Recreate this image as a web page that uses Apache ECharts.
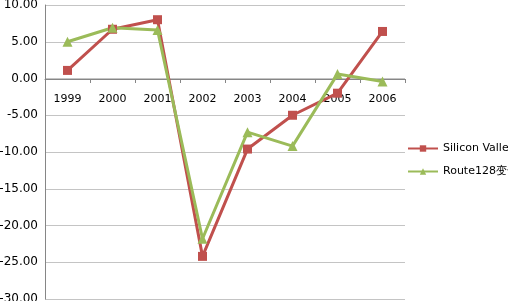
<!DOCTYPE html>
<html>
<head>
<meta charset="utf-8">
<script src="https://cdn.jsdelivr.net/npm/echarts@6/dist/echarts.min.js"></script>
<style>
    html, body { margin: 0; padding: 0; background: #fff; }
    #chart { width: 508px; height: 301px; }
</style>
</head>
<body>
<div id="chart"></div>
<script>
var years = ['1999', '2000', '2001', '2002', '2003', '2004', '2005', '2006'];
var siliconValley = [1.1, 6.7, 8.0, -24.2, -9.6, -5.0, -2.0, 6.4];
var route128 = [5.0, 6.9, 6.6, -21.8, -7.3, -9.2, 0.6, -0.4];
var seriesNames = ['Silicon Valley变化', 'Route128变化'];

function init() {
    var myChart = echarts.init(document.getElementById('chart'));
    let red_color = '#C0504D';
    let green_color = '#9BBB59';
    let font = 'DejaVu Sans';
    myChart.setOption({
        backgroundColor: '#fff',
        animation: false,
        legend: {
            orient: 'vertical',
            left: 402,
            top: 138,
            itemWidth: 30,
            itemHeight: 8,
            itemGap: 12,
            textStyle: { fontFamily: font, fontSize: 11, color: '#000' },
            data: seriesNames
        },
        grid: {
            left: 45,
            right: 103,
            top: 5,
            bottom: 2,
            containLabel: false,
            outerBoundsMode: 'none'
        },
        xAxis: {
            type: 'category',
            data: years,
            position: 'bottom',
            // x axis sits on the zero line, 220 px above the grid bottom
            offset: -220,
            boundaryGap: true,
            axisLine: { onZero: false, lineStyle: { color: '#868686' } },
            axisTick: { show: true, length: 4, lineStyle: { color: '#868686' } },
            axisLabel: {
                show: true, interval: 0, hideOverlap: false,
                fontFamily: font, fontSize: 11, color: '#000', margin: 15
            },
            splitLine: { show: false }
        },
        yAxis: {
            type: 'value',
            min: -30,
            max: 10,
            interval: 5,
            axisLine: { show: true, lineStyle: { color: '#868686' } },
            axisTick: { show: false },
            axisLabel: {
                fontFamily: font, fontSize: 12, color: '#000', margin: 7,
                formatter: function (v) { return v.toFixed(2); }
            },
            splitLine: { lineStyle: { color: '#C4C4C4', width: 1 } }
        },
        series: [
            {
                name: seriesNames[0],
                type: 'line',
                data: siliconValley,
                symbol: 'rect',
                symbolSize: 9,
                lineStyle: { color: red_color, width: 3 },
                itemStyle: { color: red_color }
            },
            {
                name: seriesNames[1],
                type: 'line',
                data: route128,
                symbol: 'triangle',
                symbolSize: 10,
                lineStyle: { color: green_color, width: 3 },
                itemStyle: { color: green_color }
            }
        ]
    });
}
document.addEventListener('DOMContentLoaded', init);
</script>
</body>
</html>
